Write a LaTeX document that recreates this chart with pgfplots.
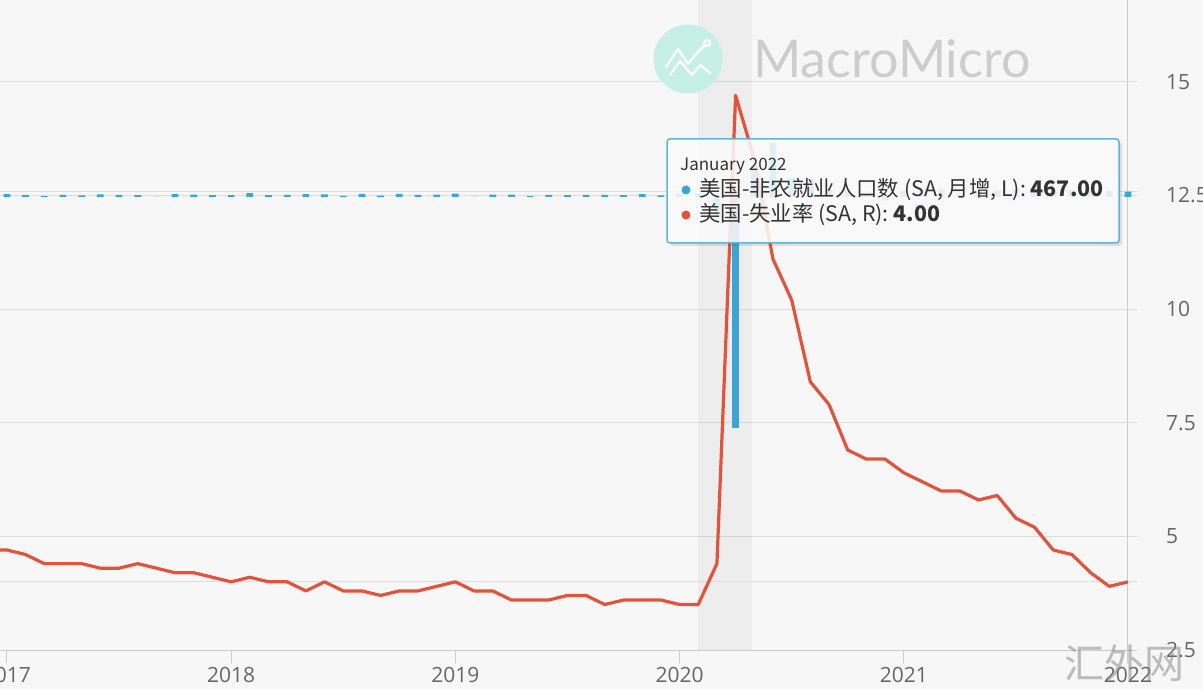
\documentclass[border=0pt]{standalone}
\usepackage{pgfplots}
\usepackage{pgfplotstable}
\pgfplotsset{compat=1.18}
\usepackage{fontspec}
\setmainfont{Open Sans}
\newfontfamily\cjk{Noto Sans CJK SC}
\newfontfamily\logofont{Lato}
\definecolor{bg}{HTML}{F7F7F7}
\definecolor{gridc}{HTML}{DDDDDD}
\definecolor{axc}{HTML}{CCCCCC}
\definecolor{txt}{HTML}{666666}
\definecolor{tiptxt}{HTML}{333333}
\definecolor{ured}{HTML}{E2533C}
\definecolor{nblue}{HTML}{3AA6D6}
\definecolor{tipb}{HTML}{5DB5DD}
\definecolor{logoc}{HTML}{C6EFE5}
\definecolor{logot}{HTML}{CDCDCD}

\pgfplotstableread{
m u
-1 4.7
0 4.7
1 4.6
2 4.4
3 4.4
4 4.4
5 4.3
6 4.3
7 4.4
8 4.3
9 4.2
10 4.2
11 4.1
12 4.0
13 4.1
14 4.0
15 4.0
16 3.8
17 4.0
18 3.8
19 3.8
20 3.7
21 3.8
22 3.8
23 3.9
24 4.0
25 3.8
26 3.8
27 3.6
28 3.6
29 3.6
30 3.7
31 3.7
32 3.5
33 3.6
34 3.6
35 3.6
36 3.5
37 3.5
38 4.4
39 14.7
40 13.3
41 11.1
42 10.2
43 8.4
44 7.9
45 6.9
46 6.7
47 6.7
48 6.4
49 6.2
50 6.0
51 6.0
52 5.8
53 5.9
54 5.4
55 5.2
56 4.7
57 4.6
58 4.2
59 3.9
60 4.0
}\unemp

\pgfplotstableread{
m n
0 259
1 195
2 74
3 180
4 153
5 232
6 183
7 174
8 18
9 259
10 219
11 160
12 155
13 339
14 172
15 181
16 263
17 231
18 95
19 276
20 117
21 275
22 186
23 199
24 301
25 1
26 200
27 216
28 71
29 181
30 165
31 197
32 194
33 172
34 248
35 150
36 315
37 289
38 -1683
39 -20500
40 2725
41 4781
42 1726
43 1583
44 716
45 680
46 264
47 -306
48 520
49 710
50 704
51 263
52 447
53 557
54 689
55 517
56 424
57 648
58 647
59 510
60 467
}\nfp

\begin{document}
\begin{tikzpicture}[x=1pt,y=1pt]
\useasboundingbox (0,-39) rectangle (1203,650);
\fill[bg] (0,-39) rectangle (1203,650);
\pgfplotsset{common/.style={scale only axis, width=1137pt, height=650pt,
  xmin=-0.37, xmax=60.48, at={(0,0)}, anchor=south west}}
% axis 1: grid, band, ticks (right scale)
\begin{axis}[common, ymin=2.5, ymax=16.8,
  axis x line*=bottom, axis y line*=right,
  y axis line style={draw=none},
  x axis line style={axc, line width=1pt},
  xtick={0,12,24,36,48,60},
  xticklabels={2017,2018,2019,2020,2021,2022},
  ytick={2.5,5,7.5,10,12.5,15},
  yticklabels={2.5,5,7.5,10,12.5,15},
  ymajorgrids, grid style={gridc, line width=1pt},
  tick align=outside, major tick length=13pt,
  x tick style={axc, line width=1pt},
  y tick style={draw=none},
  xticklabel style={txt, font=\fontsize{21}{25}\selectfont, anchor=north, inner sep=0pt, yshift=-4pt},
  yticklabel style={txt, font=\fontsize{21}{25}\selectfont, anchor=west, inner sep=0pt, xshift=16pt},
]
\fill[black, opacity=0.04] (axis cs:37,2.5) rectangle (axis cs:39.9,16.8);
\draw[gridc, line width=1pt] (axis cs:-1,4) -- (axis cs:61,4);
\draw[axc, line width=1pt] (axis cs:60,2.5) -- (axis cs:60,16.8);
\end{axis}
% axis 2: nonfarm payroll bars (left scale, hidden)
\begin{axis}[common, hide axis, ymin=-40200, ymax=17480]
\draw[gridc, line width=1pt] (axis cs:-1,467) -- (axis cs:61,467);
\addplot[ybar, bar shift=0pt, bar width=0.36, fill=nblue, draw=none] table[x=m,y=n]{\nfp};
\end{axis}
% axis 3: unemployment line
\begin{axis}[common, hide axis, ymin=2.5, ymax=16.8]
\addplot[ured, line width=3.2pt, line join=round] table[x=m,y=u]{\unemp};
\end{axis}
% watermark logo
\fill[logoc] (688,591) circle (34.5);
\draw[white, line width=2.2pt, line join=round, line cap=round]
  (666,583) -- (678,601) -- (688,586) -- (696,596) -- (704,604);
\draw[white, line width=2.2pt] (707,607) circle (3);
\draw[white, line width=2.2pt, line join=round, line cap=round]
  (670,575) -- (680,589) -- (692,575) -- (700,585) -- (710,577);
\node[anchor=base west, inner sep=0pt, text=logot, font=\logofont\fontsize{52}{55}\selectfont] at (753,572) {MacroMicro};
% tooltip
\fill[black, opacity=0.10, rounded corners=3pt] (670,404) rectangle (1122,508);
\draw[tipb, line width=1.5pt, fill=white, fill opacity=0.85, rounded corners=3pt] (667,407) rectangle (1119,511);
\node[anchor=base west, inner sep=0pt, text=tiptxt, font=\cjk\fontsize{17}{20}\selectfont] at (680,479) {January 2022};
\fill[nblue] (686,460) circle (4.5);
\node[anchor=base west, inner sep=0pt, text=tiptxt, font=\cjk\fontsize{21.4}{25}\selectfont] at (699,453) {美国-非农就业人口数 (SA, 月增, L): \textbf{467.00}};
\fill[ured] (686,435) circle (4.5);
\node[anchor=base west, inner sep=0pt, text=tiptxt, font=\cjk\fontsize{21.4}{25}\selectfont] at (699,428) {美国-失业率 (SA, R): \textbf{4.00}};
% site watermark
\node[inner sep=0pt, text=gray, opacity=0.5, font=\cjk\fontsize{40}{44}\selectfont] at (1124,-13) {汇外网};
\end{tikzpicture}
\end{document}
